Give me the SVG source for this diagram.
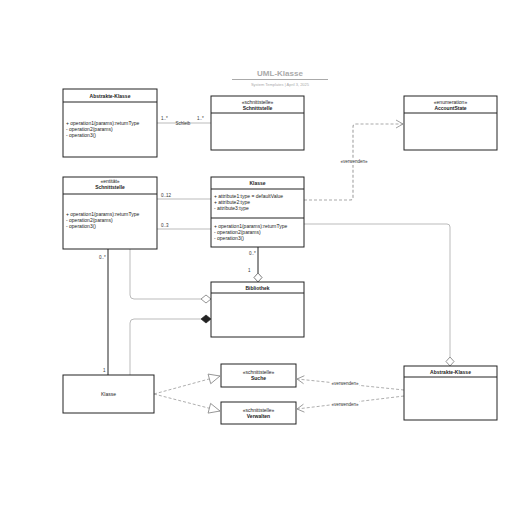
<svg xmlns="http://www.w3.org/2000/svg" width="516" height="516" viewBox="0 0 516 516">
<defs>
<style>
.box{fill:#fff;stroke:#222;stroke-width:1}
.t{font-family:"Liberation Sans",Arial,sans-serif;font-size:5px;fill:#222}
.b{font-weight:bold}
.m{text-anchor:middle}
.lbl{font-family:"Liberation Sans",Arial,sans-serif;font-size:4.5px;fill:#333}
.gl{fill:none;stroke:#bbb;stroke-width:1}
.bl{fill:none;stroke:#222;stroke-width:1}
.dl{fill:none;stroke:#999;stroke-width:0.8;stroke-dasharray:3,2}
.dg{fill:none;stroke:#aaa;stroke-width:1.2;stroke-dasharray:3,2}
</style>
<marker id="open" markerWidth="10" markerHeight="10" refX="8" refY="5" orient="auto" markerUnits="userSpaceOnUse">
<path d="M1,1 L8,5 L1,9" fill="none" stroke="#888" stroke-width="0.8"/>
</marker>
<marker id="tri" markerWidth="14" markerHeight="12" refX="12" refY="6" orient="auto" markerUnits="userSpaceOnUse">
<path d="M1,1 L12,6 L1,11 Z" fill="#fff" stroke="#888" stroke-width="0.8"/>
</marker>
</defs>
<rect width="516" height="516" fill="#fff"/>
<g id="title">
<text class="t m" x="280" y="76" style="font-size:8px;font-weight:bold;fill:#aaa">UML-Klasse</text>
<line x1="232" y1="79.5" x2="328" y2="79.5" stroke="#aaa" stroke-width="1"/>
<text class="t m" x="280" y="86" style="font-size:4px;fill:#aaa">System Templates  |  April 3, 2025</text>
</g>
<g id="connectors">
<line class="gl" x1="157" y1="123" x2="211" y2="123"/>
<text class="lbl" x="161" y="120">1..*</text>
<text class="lbl m" x="183" y="125">Schleib</text>
<text class="lbl" x="197" y="120">1..*</text>
<path class="dg" d="M304,200 H350 Q353,200 353,197 V127 Q353,124 356,124 H403" marker-end="url(#open)"/>
<rect x="338" y="159" width="30" height="6" fill="#fff"/>
<text class="lbl m" x="354" y="163">«verwenden»</text>
<line class="gl" x1="157" y1="199" x2="211" y2="199"/>
<text class="lbl" x="161" y="197">0..12</text>
<line class="gl" x1="157" y1="229" x2="211" y2="229"/>
<text class="lbl" x="161" y="227">0..3</text>
<path class="gl" d="M304,224 H447 Q450,224 450,227 V357"/>
<path d="M450,357 L454,361.5 L450,366 L446,361.5 Z" fill="#fff" stroke="#666" stroke-width="0.7"/>
<line class="bl" x1="258" y1="247" x2="258" y2="273"/>
<path d="M258,273 L262,277.5 L258,282 L254,277.5 Z" fill="#fff" stroke="#444" stroke-width="0.7"/>
<text class="lbl" x="249" y="255">0..*</text>
<text class="lbl" x="248" y="272">1</text>
<path class="gl" d="M130,249 V295 Q130,299 134,299 H201"/>
<path d="M201,299 L206,295 L211,299 L206,303 Z" fill="#fff" stroke="#666" stroke-width="0.7"/>
<path class="gl" d="M130,375 V323 Q130,319 134,319 H201"/>
<path d="M201,319 L206,315 L211,319 L206,323 Z" fill="#222" stroke="#222" stroke-width="0.7"/>
<line class="bl" x1="108" y1="249" x2="108" y2="375"/>
<text class="lbl" x="99" y="259">0..*</text>
<text class="lbl" x="103" y="372">1</text>
<line class="dl" x1="154" y1="394" x2="220" y2="376" marker-end="url(#tri)"/>
<line class="dl" x1="154" y1="394" x2="220" y2="411" marker-end="url(#tri)"/>
<line class="dl" x1="404" y1="390" x2="297" y2="379" marker-end="url(#open)"/>
<rect x="331" y="380" width="28" height="6" fill="#fff"/>
<text class="lbl m" x="345" y="384.5">«verwenden»</text>
<line class="dl" x1="404" y1="396" x2="297" y2="409" marker-end="url(#open)"/>
<rect x="331" y="401" width="28" height="6" fill="#fff"/>
<text class="lbl m" x="345" y="405.5">«verwenden»</text>
</g>
<g id="abstrakte-klasse-1">
<rect class="box" x="63" y="89" width="94" height="68"/>
<line class="bl" x1="63" y1="102" x2="157" y2="102"/>
<text class="t b m" x="110" y="97.5">Abstrakte-Klasse</text>
<text class="t" x="66" y="125">+ operation1(params):returnType</text>
<text class="t" x="66" y="131">- operation2(params)</text>
<text class="t" x="66" y="137">- operation3()</text>
</g>
<g id="schnittstelle-1">
<rect class="box" x="211" y="96" width="93" height="54"/>
<line class="bl" x1="211" y1="113" x2="304" y2="113"/>
<text class="t m" x="257.5" y="104">«schnittstelle»</text>
<text class="t b m" x="257.5" y="110">Schnittstelle</text>
</g>
<g id="accountstate">
<rect class="box" x="404" y="96" width="93" height="54"/>
<line class="bl" x1="404" y1="113" x2="497" y2="113"/>
<text class="t m" x="450.5" y="104">«enumeration»</text>
<text class="t b m" x="450.5" y="110">AccountState</text>
</g>
<g id="schnittstelle-2">
<rect class="box" x="63" y="177" width="94" height="72"/>
<line class="bl" x1="63" y1="194" x2="157" y2="194"/>
<text class="t m" x="110" y="183">«entität»</text>
<text class="t b m" x="110" y="189">Schnittstelle</text>
<text class="t" x="66" y="216">+ operation1(params):returnType</text>
<text class="t" x="66" y="222">- operation2(params)</text>
<text class="t" x="66" y="228">- operation3()</text>
</g>
<g id="klasse-1">
<rect class="box" x="211" y="177" width="93" height="70"/>
<line class="bl" x1="211" y1="189" x2="304" y2="189"/>
<line class="bl" x1="211" y1="218" x2="304" y2="218"/>
<text class="t b m" x="257.5" y="184.5">Klasse</text>
<text class="t" x="214" y="198">+ attribute1:type = defaultValue</text>
<text class="t" x="214" y="204">+ attribute2:type</text>
<text class="t" x="214" y="210">- attribute3:type</text>
<text class="t" x="214" y="228">+ operation1(params):returnType</text>
<text class="t" x="214" y="234">- operation2(params)</text>
<text class="t" x="214" y="240">- operation3()</text>
</g>
<g id="bibliothek">
<rect class="box" x="211" y="282" width="93" height="55"/>
<line class="bl" x1="211" y1="293" x2="304" y2="293"/>
<text class="t b m" x="257.5" y="289.5">Bibliothek</text>
</g>
<g id="klasse-2">
<rect class="box" x="63" y="375" width="91" height="38"/>
<text class="t m" x="108.5" y="395.5">Klasse</text>
</g>
<g id="suche">
<rect class="box" x="221" y="364" width="75" height="23"/>
<text class="t m" x="258.5" y="374">«schnittstelle»</text>
<text class="t b m" x="258.5" y="380">Suche</text>
</g>
<g id="verwalten">
<rect class="box" x="221" y="402" width="75" height="22"/>
<text class="t m" x="258.5" y="412">«schnittstelle»</text>
<text class="t b m" x="258.5" y="418">Verwalten</text>
</g>
<g id="abstrakte-klasse-2">
<rect class="box" x="404" y="366" width="93" height="54"/>
<line class="bl" x1="404" y1="377" x2="497" y2="377"/>
<text class="t b m" x="450.5" y="373.5">Abstrakte-Klasse</text>
</g>
</svg>
